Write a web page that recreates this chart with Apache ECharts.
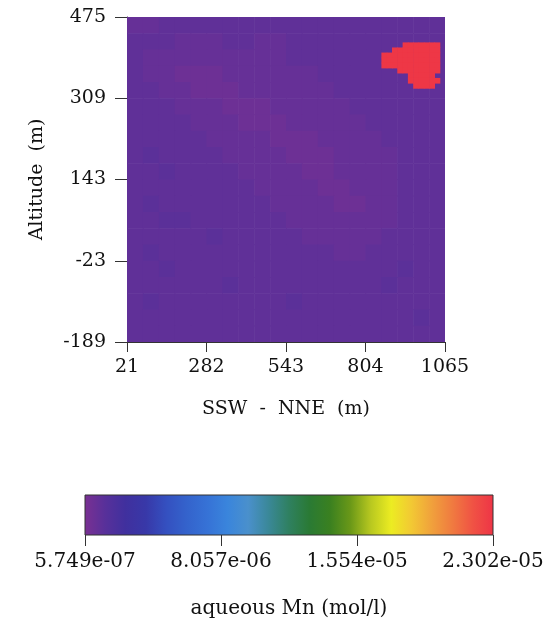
<!DOCTYPE html>
<html>
<head>
<meta charset="utf-8">
<script src="https://cdn.jsdelivr.net/npm/echarts@6.0.0/dist/echarts.min.js"></script>
<style>
html,body{margin:0;padding:0;background:#fff;}
#chart{width:547px;height:633px;}
</style>
</head>
<body>
<div id="chart"></div>
<script>
// ---- data ----
const xTicks = [21, 282, 543, 804, 1065];
const yTicks = [-189, -23, 143, 309, 475];
const cbTicks = [5.749e-7, 8.057e-6, 1.554e-5, 2.302e-5];
const cbTickLabels = ['5.749e-07', '8.057e-06', '1.554e-05', '2.302e-05'];
const vMin = 5.749e-7;
const vMax = 2.302e-5;

// background field: digits index into bgLevelValues (mol/l), rows from top (475 m) to bottom (-189 m)
const bgLevelValues = [6.2e-7, 7.2e-7, 8.4e-7, 1.02e-6, 1.25e-6, 1.43e-6, 1.61e-6];
const bgRows = [
  "44555555555555555555",
  "55544455445555555555",
  "54444444445555555555",
  "54433344444455555555",
  "55443334444445555555",
  "55544433344444555555",
  "55554443334444455555",
  "55555444433344445555",
  "56555544443334444555",
  "55655554444334444555",
  "55555555444433444555",
  "56555555544443344555",
  "55665555554444444555",
  "55555655555444445555",
  "56555555555554455555",
  "55655555555555555655",
  "55555565555555556555",
  "56555555556555555555",
  "55555555555555555565",
  "55555555555555555555"
];

// high-concentration patch (fine cells, '#' = patch), starting at fine column 48, fine row 5
const patchValue = 2.29e-5;
const patchCol0 = 48;
const patchRow0 = 5;
const patchRows = [
  "....#######",
  "..#########",
  "###########",
  "###########",
  "###########",
  "...########",
  ".....#####.",
  ".....######",
  "......####."
];

const colorStops = [
  '#7a3092', '#58309a', '#40309e', '#3838a8', '#3450c0', '#3463cc', '#3672d6',
  '#3a85dc', '#4a90cc', '#3a8898', '#2f8060', '#2a7a34', '#3a8020', '#6a9818',
  '#b8c820', '#ecec22', '#f2c834', '#f0a03c', '#f07a40', '#f05244', '#ee3446'
];

// ---- build cells ----
const xMin = xTicks[0], xMax = xTicks[xTicks.length - 1];
const yMin = yTicks[0], yMax = yTicks[yTicks.length - 1];
const cells = [];
const nR = bgRows.length, nC = bgRows[0].length;
const cw = (xMax - xMin) / nC, rh = (yMax - yMin) / nR;
bgRows.forEach((row, r) => {
  for (let c = 0; c < nC; c++) {
    cells.push([xMin + c * cw, yMax - r * rh, xMin + (c + 1) * cw, yMax - (r + 1) * rh, bgLevelValues[+row[c]]]);
  }
});
const fcw = (xMax - xMin) / 60, frh = (yMax - yMin) / 64;
patchRows.forEach((row, i) => {
  for (let j = 0; j < row.length; j++) {
    if (row[j] === '#') {
      const c = patchCol0 + j, r = patchRow0 + i;
      cells.push([xMin + c * fcw, yMax - r * frh, xMin + (c + 1) * fcw, yMax - (r + 1) * frh, patchValue]);
    }
  }
});

const FONT = '"DejaVu Serif", "Liberation Serif", serif';
const TXT = '#111';

const chart = echarts.init(document.getElementById('chart'), null, {renderer: 'canvas'});
const gradStops = colorStops.map((c, i) => ({offset: i / (colorStops.length - 1), color: c}));
const plain = v => String(v);

chart.setOption({
  backgroundColor: '#ffffff',
  animation: false,
  grid: [
    {left: 127, top: 17, width: 318, height: 325},
    {left: 85, top: 495, width: 408, height: 40}
  ],
  xAxis: [
    {
      type: 'value', gridIndex: 0, min: xMin, max: xMax,
      name: 'SSW  -  NNE  (m)', nameLocation: 'middle', nameGap: 58,
      nameTextStyle: {fontFamily: FONT, fontSize: 19, color: TXT},
      axisLine: {show: true, onZero: false, lineStyle: {color: '#333', width: 1}},
      axisTick: {show: true, length: 10, customValues: xTicks, lineStyle: {color: '#333'}},
      axisLabel: {customValues: xTicks, margin: 16, fontFamily: FONT, fontSize: 19, color: TXT, formatter: plain},
      splitLine: {show: false}
    },
    {
      type: 'value', gridIndex: 1, min: vMin, max: vMax,
      name: 'aqueous Mn (mol/l)', nameLocation: 'middle', nameGap: 64,
      nameTextStyle: {fontFamily: FONT, fontSize: 20, color: TXT},
      axisLine: {show: false, onZero: false},
      axisTick: {show: true, length: 11, customValues: cbTicks, lineStyle: {color: '#333'}},
      axisLabel: {
        customValues: cbTicks, margin: 17, fontFamily: FONT, fontSize: 20, color: TXT,
        formatter: function (v) {
          const i = cbTicks.findIndex(t => Math.abs(t - v) < 1e-10);
          return i >= 0 ? cbTickLabels[i] : '';
        }
      },
      splitLine: {show: false}
    }
  ],
  yAxis: [
    {
      type: 'value', gridIndex: 0, min: yMin, max: yMax,
      name: 'Altitude  (m)', nameLocation: 'middle', nameGap: 80, nameRotate: 90,
      nameTextStyle: {fontFamily: FONT, fontSize: 19, color: TXT},
      axisLine: {show: true, onZero: false, lineStyle: {color: '#333', width: 1}},
      axisTick: {show: true, length: 12, customValues: yTicks, lineStyle: {color: '#333'}},
      axisLabel: {customValues: yTicks, margin: 21, fontFamily: FONT, fontSize: 19, color: TXT, formatter: plain},
      splitLine: {show: false}
    },
    {
      type: 'value', gridIndex: 1, min: 0, max: 1, show: false
    }
  ],
  visualMap: {
    type: 'continuous', show: false, min: vMin, max: vMax,
    dimension: 4, seriesIndex: 0,
    inRange: {color: colorStops}
  },
  series: [
    {
      type: 'custom', xAxisIndex: 0, yAxisIndex: 0,
      encode: {x: [0, 2], y: [1, 3]},
      clip: true,
      data: cells,
      renderItem: function (params, api) {
        const p0 = api.coord([api.value(0), api.value(1)]);
        const p1 = api.coord([api.value(2), api.value(3)]);
        return {
          type: 'rect',
          shape: {
            x: Math.min(p0[0], p1[0]), y: Math.min(p0[1], p1[1]),
            width: Math.abs(p1[0] - p0[0]) + 0.6, height: Math.abs(p1[1] - p0[1]) + 0.6
          },
          style: {fill: api.visual('color')}
        };
      }
    },
    {
      type: 'custom', xAxisIndex: 1, yAxisIndex: 1,
      data: [[vMin, vMax]],
      renderItem: function (params, api) {
        const p0 = api.coord([api.value(0), 1]);
        const p1 = api.coord([api.value(1), 0]);
        return {
          type: 'rect',
          shape: {x: p0[0], y: p0[1], width: p1[0] - p0[0], height: p1[1] - p0[1]},
          style: {
            fill: new echarts.graphic.LinearGradient(0, 0, 1, 0, gradStops),
            stroke: '#333', lineWidth: 1
          }
        };
      }
    }
  ]
});
</script>
</body>
</html>
